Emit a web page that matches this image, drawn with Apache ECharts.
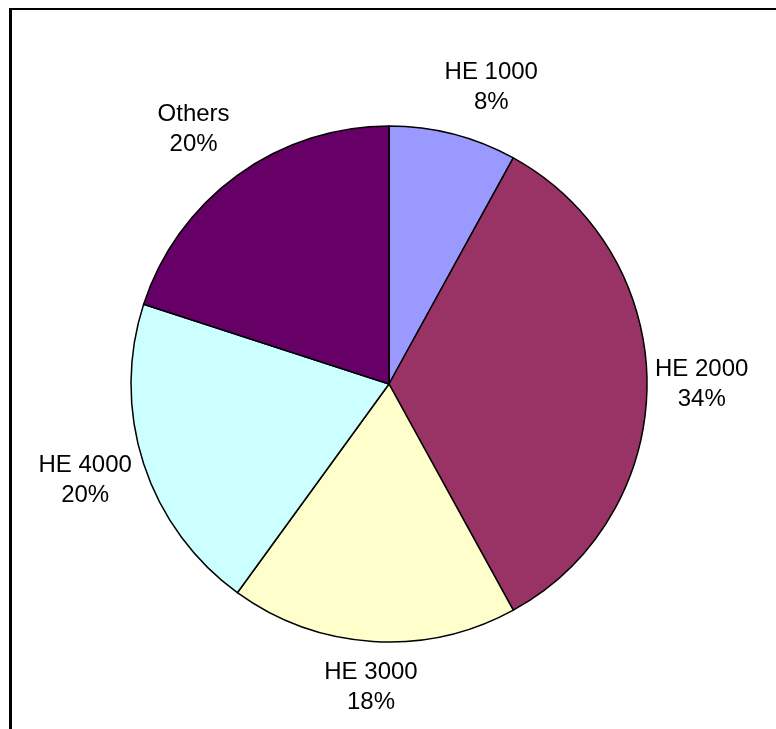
<!DOCTYPE html>
<html>
<head>
<meta charset="utf-8">
<script src="https://cdn.jsdelivr.net/npm/echarts@6/dist/echarts.min.js"></script>
<style>
html,body{margin:0;padding:0;background:#fff;}
#chart{width:776px;height:729px;}
</style>
</head>
<body>
<div id="chart"></div>
<script>
const categories = ['HE 1000', 'HE 2000', 'HE 3000', 'HE 4000', 'Others'];
const values = [8, 34, 18, 20, 20];
const colors = ['#9999FF', '#993366', '#FFFFCC', '#CCFFFF', '#660066'];

// layout (not data)
const CX = 389, CY = 384, R = 258, GAP = 12;
const labelNudge = [[25, 4], [-4, 0], [1, 1], [4, -4], [-10, 1]];

const total = values.reduce((a, b) => a + b, 0);
const mids = [];
let acc = 0;
values.forEach(v => { mids.push((acc + v / 2) / total * 2 * Math.PI); acc += v; });

const chart = echarts.init(document.getElementById('chart'), null, {renderer: 'canvas'});
chart.setOption({
  animation: false,
  backgroundColor: '#ffffff',
  graphic: [
    {type: 'rect', shape: {x: 9, y: 8, width: 3, height: 740}, style: {fill: '#000'}, silent: true},
    {type: 'rect', shape: {x: 9, y: 8, width: 790, height: 2}, style: {fill: '#000'}, silent: true}
  ],
  series: [{
    type: 'pie',
    center: [CX, CY],
    radius: R,
    startAngle: 90,
    clockwise: true,
    avoidLabelOverlap: false,
    emphasis: {disabled: true},
    data: categories.map((c, i) => ({name: c, value: values[i], itemStyle: {color: colors[i]}})),
    itemStyle: {borderColor: '#000', borderWidth: 1.5},
    label: {
      show: true,
      position: 'outside',
      formatter: p => p.name + '\n' + p.value + '%',
      fontFamily: '"Liberation Sans", Arial, sans-serif',
      fontSize: 24,
      lineHeight: 30,
      color: '#000',
      align: 'center'
    },
    labelLine: {show: false},
    labelLayout: function (params) {
      const i = params.dataIndex;
      const a = mids[i];
      const ux = Math.sin(a), uy = -Math.cos(a);
      const w = params.labelRect.width, h = params.labelRect.height;
      const d = R + GAP + Math.abs(ux) * w / 2 + Math.abs(uy) * h / 2;
      return {
        x: CX + d * ux + labelNudge[i][0],
        y: CY + d * uy + labelNudge[i][1],
        align: 'center',
        verticalAlign: 'middle'
      };
    }
  }]
});
</script>
</body>
</html>
